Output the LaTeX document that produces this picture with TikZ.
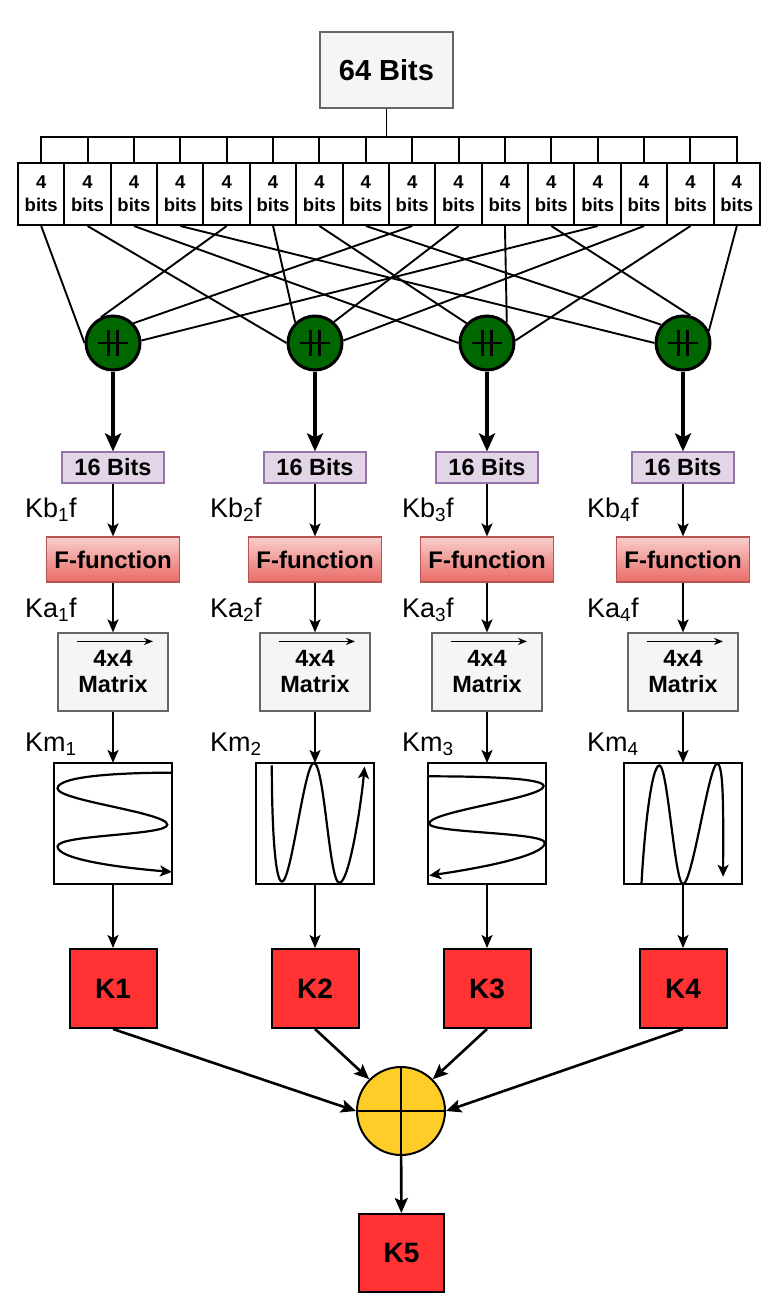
\documentclass[tikz,border=0pt]{standalone}
\usepackage{fontspec}
\setmainfont{Liberation Sans}
\usetikzlibrary{arrows.meta,calc}
\definecolor{srcfill}{HTML}{F5F5F5}
\definecolor{srcline}{HTML}{666666}
\definecolor{halffill}{HTML}{E1D5E7}
\definecolor{halfline}{HTML}{9673A6}
\definecolor{fftop}{HTML}{F8CECC}
\definecolor{ffbot}{HTML}{EA6B66}
\definecolor{ffline}{HTML}{B85450}
\definecolor{mixgreen}{HTML}{006600}
\definecolor{keyred}{HTML}{FF3333}
\definecolor{sumyel}{HTML}{FFCD28}

\begin{document}
\begin{tikzpicture}[x=1pt,y=-1pt,
  wire/.style={line width=1.9pt},
  flow/.style={line width=1.8pt,-{Stealth[length=13pt,width=11pt,inset=3pt]}},
  fat/.style={line width=3.8pt,-{Stealth[length=18pt,width=16pt,inset=4pt]}},
  merge/.style={line width=2.6pt,-{Stealth[length=15pt,width=13pt,inset=3pt]}},
  squig/.style={line width=2.2pt,-{Stealth[length=12pt,width=11pt,inset=3pt]}},
  nib/.style={draw,line width=2pt,fill=white,minimum width=46.4pt,minimum height=62pt,
    inner sep=0pt,align=center,font=\fontsize{18.5}{23}\selectfont\bfseries},
  mixer/.style={circle,draw,line width=3pt,fill=mixgreen,minimum size=54pt,inner sep=0pt},
  half/.style={draw=halfline,line width=1.2pt,fill=halffill,minimum width=102pt,
    minimum height=31pt,inner sep=0pt,font=\fontsize{23.5}{28}\selectfont\bfseries},
  ffun/.style={draw=ffline,line width=1.2pt,top color=fftop,bottom color=ffbot,
    minimum width=133pt,minimum height=45pt,inner sep=0pt,
    font=\fontsize{24}{28}\selectfont\bfseries},
  mat/.style={draw=srcline,line width=1.2pt,fill=srcfill,minimum width=110pt,
    minimum height=78pt,inner sep=0pt,align=center,
    font=\fontsize{23.5}{26}\selectfont\bfseries},
  wave/.style={draw,line width=1.2pt,fill=white,minimum width=118pt,minimum height=121pt,
    inner sep=0pt,outer sep=0pt},
  key/.style={draw,line width=2pt,fill=keyred,minimum width=87pt,minimum height=79pt,
    inner sep=0pt,font=\fontsize{28}{32}\selectfont\bfseries},
  lbl/.style={anchor=base west,inner sep=0pt,font=\fontsize{27}{30}\selectfont}]
  \useasboundingbox (0,0) rectangle (775,1308);

  \node[draw=srcline,line width=1.2pt,fill=srcfill,minimum width=133pt,minimum height=76pt,
    font=\fontsize{29}{34}\selectfont\bfseries] (src) at (386.5,70) {64 Bits};
  \coordinate (bar) at (0,137);
  \foreach \n in {1,...,16}{
    \node[nib] (nb\n) at ({18+46.375*(\n-0.5)},194) {4\\bits};
    \draw[wire] (nb\n.north) -- (nb\n.north |- bar);
  }
  \draw[wire] (src.south) -- (src.south |- bar);
  \draw[wire,line cap=rect] (nb1.north |- bar) -- (nb16.north |- bar);

  % the four columns
  \foreach \i/\cx in {1/113,2/315,3/487,4/683}{
    \node[mixer] (mix\i) at (\cx,343) {};
    \draw[line width=2.2pt] ($(mix\i)+(-15,0)$) -- ($(mix\i)+(15,0)$)
      ($(mix\i)+(-4.5,-13)$) -- ($(mix\i)+(-4.5,13)$)
      ($(mix\i)+(4.5,-13)$) -- ($(mix\i)+(4.5,13)$);
    \node[half] (hb\i) at (\cx,467.5) {16 Bits};
    \node[ffun] (ff\i) at (\cx,559.5) {F-function};
    \node[mat] (mx\i) at (\cx,672) {4x4\\Matrix};
    \draw[line width=1.5pt,-{Stealth[length=9pt,width=7pt]}]
      ($(mx\i.north)+(-36,9)$) -- ($(mx\i.north)+(40,9)$);
    \node[wave] (wv\i) at (\cx,823.5) {};
    \node[key] (k\i) at (\cx,988.5) {K\i};
    \draw[fat] (mix\i) -- (hb\i);
    \draw[flow] (hb\i) -- (ff\i);
    \draw[flow] (ff\i) -- (mx\i);
    \draw[flow] (mx\i) -- (wv\i);
    \draw[flow] (wv\i) -- (k\i);
  }
  \foreach \n/\m/\a in {1/1/180,2/2/180,3/3/180,4/4/180,5/1/115,6/2/134,7/3/136,8/4/140,
      9/1/44,10/2/48,11/3/46,12/4/75,13/1/5,14/2/5,15/3/5,16/4/25}
    \draw[wire] (nb\n.south) -- (mix\m.\a);

  \foreach \i/\lx in {1/25,2/210,3/402,4/587}{
    \node[lbl] (lb\i) at (\lx,517) {Kb\textsubscript{\i}f};
    \node[lbl] (la\i) at (\lx,617) {Ka\textsubscript{\i}f};
    \node[lbl] (lm\i) at (\lx,751) {Km\textsubscript{\i}};
  }

  % wave patterns
  \begin{scope}[shift={(wv1.north west)},x=118pt,y=-121pt]
    \draw[squig] (1,0.08) .. controls (0.45,0.08) and (0.03,0.12) .. (0.03,0.21)
      .. controls (0.03,0.31) and (0.96,0.41) .. (0.96,0.51)
      .. controls (0.96,0.60) and (0.03,0.59) .. (0.03,0.69)
      .. controls (0.03,0.79) and (0.5,0.86) .. (1,0.90);
  \end{scope}
  \begin{scope}[shift={(wv2.north west)},x=118pt,y=-121pt]
    \draw[squig] (0.134,0.02) .. controls (0.134,0.5) and (0.16,0.98) .. (0.22,0.98)
      .. controls (0.30,0.98) and (0.41,0) .. (0.49,0)
      .. controls (0.58,0) and (0.62,0.99) .. (0.706,0.99)
      .. controls (0.79,0.99) and (0.89,0.35) .. (0.92,0.03);
  \end{scope}
  \begin{scope}[shift={(wv3.north west)},x=118pt,y=-121pt]
    \draw[squig] (0,0.11) .. controls (0.55,0.11) and (0.98,0.13) .. (0.98,0.19)
      .. controls (0.98,0.29) and (0.01,0.40) .. (0.01,0.50)
      .. controls (0.01,0.58) and (0.99,0.57) .. (0.99,0.66)
      .. controls (0.99,0.76) and (0.5,0.86) .. (0.01,0.93);
  \end{scope}
  \begin{scope}[shift={(wv4.north west)},x=118pt,y=-121pt]
    \draw[squig] (0.148,1) .. controls (0.17,0.6) and (0.23,0.02) .. (0.30,0.02)
      .. controls (0.37,0.02) and (0.43,1) .. (0.50,1)
      .. controls (0.58,1) and (0.72,0.005) .. (0.79,0.005)
      .. controls (0.85,0.005) and (0.84,0.5) .. (0.84,0.94);
  \end{scope}

  \node[circle,draw,line width=2pt,fill=sumyel,minimum size=88pt,inner sep=0pt] (sum) at (401,1111) {};
  \draw[line width=2.2pt] (sum.west) -- (sum.east) (sum.north) -- (sum.south);
  \node[key,minimum width=85pt,minimum height=78pt] (k5) at (401.5,1253) {K5};
  \draw[merge] (k1.south) -- (sum.west);
  \draw[merge] (k2.south) -- (sum.135);
  \draw[merge] (k3.south) -- (sum.45);
  \draw[merge] (k4.south) -- (sum.east);
  \draw[merge] (sum) -- (k5);
\end{tikzpicture}
\end{document}
